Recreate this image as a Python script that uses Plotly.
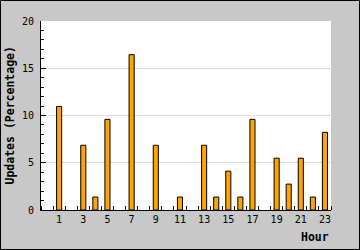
import plotly.graph_objects as go

hours = list(range(24))
updates = [0, 10.96, 0, 6.85, 1.37, 9.59, 0, 16.44, 0, 6.85, 0, 1.37,
           0, 6.85, 1.37, 4.11, 1.37, 9.59, 0, 5.48, 2.74, 5.48, 1.37, 8.22]
x_tick_vals = list(range(1, 24, 2))
x_tick_text = [str(v) for v in x_tick_vals]
y_tick_vals = [0, 5, 10, 15, 20]

W, H = 360, 250
L, R, T, B = 41, 29, 21, 40
pw, ph = W - L - R, H - T - B

bar_y = [v if v > 0 else None for v in updates]
line_w = [1 if v > 0 else 0 for v in updates]

fig = go.Figure(go.Bar(
    x=hours, y=bar_y, width=0.42,
    marker=dict(color="#ffa500", line=dict(color="black", width=line_w)),
    hoverinfo="skip",
))

mono = "DejaVu Sans Mono"
fig.update_layout(
    width=W, height=H,
    margin=dict(l=L, r=R, t=T, b=B, pad=0),
    paper_bgcolor="#c8c8c8",
    plot_bgcolor="white",
    showlegend=False,
    font=dict(family=mono, size=10, color="black"),
    xaxis=dict(
        range=[-0.5, 23.5], tickvals=x_tick_vals, ticktext=x_tick_text,
        ticks="", ticklen=0, showgrid=False, zeroline=False,
        showline=True, linecolor="black", linewidth=1,
        tickfont=dict(family=mono, size=10),
        minor=dict(tick0=0.5, dtick=1, ticks="inside", ticklen=4,
                   tickcolor="black", tickwidth=1, showgrid=False),
        fixedrange=True,
    ),
    yaxis=dict(
        range=[0, 20], tickvals=y_tick_vals, ticks="inside", ticklen=5,
        tickcolor="black", showgrid=True, gridcolor="#dcdcdc", gridwidth=1,
        zeroline=False, showline=True, linecolor="black", linewidth=1,
        tickfont=dict(family=mono, size=10),
        minor=dict(dtick=1, ticks="inside", ticklen=3, tickcolor="black",
                   showgrid=False),
        ticklabelstandoff=4,
        fixedrange=True,
    ),
    shapes=[dict(
        type="rect", xref="paper", yref="paper",
        x0=(-L + 0.5) / pw, x1=1 + (R - 0.5) / pw,
        y0=(-B + 0.5) / ph, y1=1 + (T - 0.5) / ph,
        line=dict(color="black", width=1), fillcolor="rgba(0,0,0,0)",
        layer="above",
    )],
    annotations=[
        dict(text="<b>Updates (Percentage)</b>", xref="paper", yref="paper",
             x=(9 - L) / pw, y=0.5, textangle=-90, showarrow=False,
             xanchor="center", yanchor="middle",
             font=dict(family=mono, size=11.5)),
        dict(text="<b>Hour</b>", xref="paper", yref="paper",
             x=1, y=(-27) / ph, showarrow=False,
             xanchor="right", yanchor="middle",
             font=dict(family=mono, size=11.5)),
    ],
)

fig.write_html("out.html", config=dict(displayModeBar=False))
